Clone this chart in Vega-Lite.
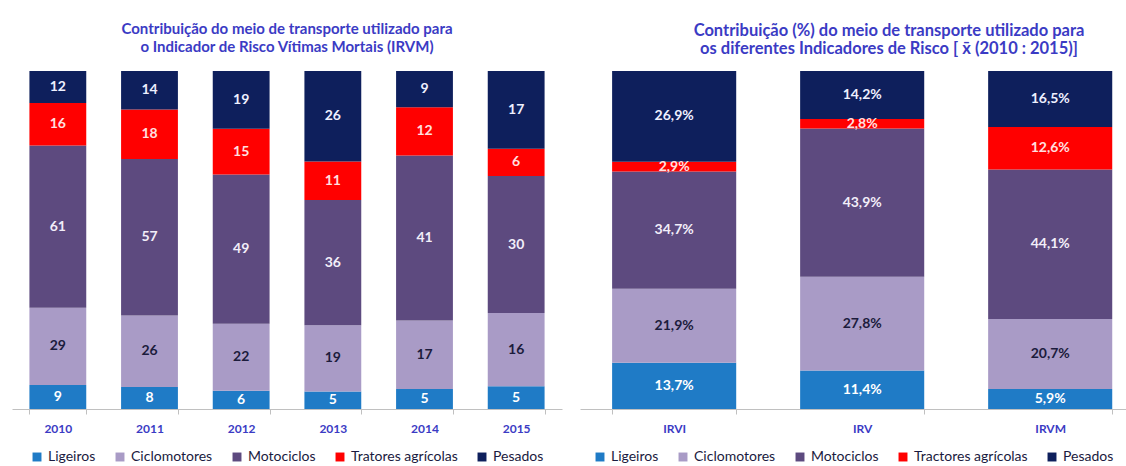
{
  "$schema": "https://vega.github.io/schema/vega-lite/v6.json",
  "padding": {"left": 12, "top": 22, "right": 0, "bottom": 0},
  "background": "white",
  "spacing": 18,
  "config": {
    "view": {"stroke": null},
    "locale": {"number": {"decimal": ",", "thousands": ".", "grouping": [3], "currency": ["", "%"]}},
    "font": "Lato",
    "title": {"font": "Lato", "fontWeight": "bold", "fontSize": 15, "color": "#3B3BC4", "lineHeight": 18, "offset": 16, "anchor": "middle"},
    "axisX": {"domainColor": "#c0c0c0", "tickColor": "#c0c0c0", "tickBand": "extent", "tickSize": 5, "labelFont": "Lato", "labelFontWeight": "bold", "labelFontSize": 12, "labelColor": "#3B3BC4", "labelPadding": 9, "labelAngle": 0, "title": null},
    "legend": {"orient": "bottom", "direction": "horizontal", "title": null, "symbolType": "square", "symbolSize": 80, "symbolStrokeWidth": 0, "labelFont": "Lato", "labelFontSize": 14, "labelColor": "#1a1a40", "columnPadding": 17, "offset": 16, "layout": {"anchor": "middle"}}
  },
  "datasets": {
    "ordem": [
      {"cat": "Ligeiros", "k": 1}, {"cat": "Ciclomotores", "k": 2}, {"cat": "Motociclos", "k": 3},
      {"cat": "Tratores agrícolas", "k": 4}, {"cat": "Tractores agrícolas", "k": 4}, {"cat": "Pesados", "k": 5}
    ]
  },
  "hconcat": [
    {
      "width": 550,
      "height": 338,
      "title": {"text": ["Contribuição do meio de transporte utilizado para", "o Indicador de Risco Vítimas Mortais (IRVM)"]},
      "data": {"values": [
        {"ano": "2010", "cat": "Ligeiros", "v": 9}, {"ano": "2010", "cat": "Ciclomotores", "v": 29}, {"ano": "2010", "cat": "Motociclos", "v": 61}, {"ano": "2010", "cat": "Tratores agrícolas", "v": 16}, {"ano": "2010", "cat": "Pesados", "v": 12},
        {"ano": "2011", "cat": "Ligeiros", "v": 8}, {"ano": "2011", "cat": "Ciclomotores", "v": 26}, {"ano": "2011", "cat": "Motociclos", "v": 57}, {"ano": "2011", "cat": "Tratores agrícolas", "v": 18}, {"ano": "2011", "cat": "Pesados", "v": 14},
        {"ano": "2012", "cat": "Ligeiros", "v": 6}, {"ano": "2012", "cat": "Ciclomotores", "v": 22}, {"ano": "2012", "cat": "Motociclos", "v": 49}, {"ano": "2012", "cat": "Tratores agrícolas", "v": 15}, {"ano": "2012", "cat": "Pesados", "v": 19},
        {"ano": "2013", "cat": "Ligeiros", "v": 5}, {"ano": "2013", "cat": "Ciclomotores", "v": 19}, {"ano": "2013", "cat": "Motociclos", "v": 36}, {"ano": "2013", "cat": "Tratores agrícolas", "v": 11}, {"ano": "2013", "cat": "Pesados", "v": 26},
        {"ano": "2014", "cat": "Ligeiros", "v": 5}, {"ano": "2014", "cat": "Ciclomotores", "v": 17}, {"ano": "2014", "cat": "Motociclos", "v": 41}, {"ano": "2014", "cat": "Tratores agrícolas", "v": 12}, {"ano": "2014", "cat": "Pesados", "v": 9},
        {"ano": "2015", "cat": "Ligeiros", "v": 5}, {"ano": "2015", "cat": "Ciclomotores", "v": 16}, {"ano": "2015", "cat": "Motociclos", "v": 30}, {"ano": "2015", "cat": "Tratores agrícolas", "v": 6}, {"ano": "2015", "cat": "Pesados", "v": 17}
      ]},
      "transform": [{"lookup": "cat", "from": {"data": {"name": "ordem"}, "key": "cat", "fields": ["k"]}}],
      "encoding": {
        "x": {"field": "ano", "type": "nominal", "title": null, "scale": {"paddingInner": 0.38, "paddingOuter": 0.19}},
        "order": {"field": "k", "type": "quantitative", "sort": "ascending"}
      },
      "layer": [
        {
          "mark": {"type": "bar"},
          "encoding": {
            "y": {"field": "v", "type": "quantitative", "stack": "normalize", "axis": null},
            "color": {"field": "cat", "type": "nominal", "sort": ["Ligeiros", "Ciclomotores", "Motociclos", "Tratores agrícolas", "Pesados"],
              "scale": {"domain": ["Ligeiros", "Ciclomotores", "Motociclos", "Tratores agrícolas", "Pesados"], "range": ["#1F7BC6", "#A99BC6", "#5D4A7F", "#FF0000", "#0E1F5C"]}}
          }
        },
        {
          "mark": {"type": "text", "fontWeight": "bold", "fontSize": 14, "font": "Lato"},
          "encoding": {
            "y": {"field": "v", "type": "quantitative", "stack": "normalize", "bandPosition": 0.5, "axis": null},
            "color": {"field": "cat", "type": "nominal", "sort": ["Ligeiros", "Ciclomotores", "Motociclos", "Tratores agrícolas", "Pesados"],
              "scale": {"domain": ["Ligeiros", "Ciclomotores", "Motociclos", "Tratores agrícolas", "Pesados"], "range": ["#ffffff", "#1c1c3c", "#f2eef9", "#ffe0e0", "#eef0ff"]}, "legend": null},
            "text": {"field": "v", "type": "quantitative"}
          }
        }
      ],
      "resolve": {"scale": {"color": "independent"}}
    },
    {
      "width": 546,
      "height": 338,
      "title": {"text": ["Contribuição (%) do meio de transporte utilizado para", "os diferentes Indicadores de Risco [ x̄ (2010 : 2015)]"], "fontSize": 16.5, "dx": 36, "dy": 2},
      "data": {"values": [
        {"ind": "IRVI", "cat": "Ligeiros", "v": 13.7}, {"ind": "IRVI", "cat": "Ciclomotores", "v": 21.9}, {"ind": "IRVI", "cat": "Motociclos", "v": 34.7}, {"ind": "IRVI", "cat": "Tractores agrícolas", "v": 2.9}, {"ind": "IRVI", "cat": "Pesados", "v": 26.9},
        {"ind": "IRV", "cat": "Ligeiros", "v": 11.4}, {"ind": "IRV", "cat": "Ciclomotores", "v": 27.8}, {"ind": "IRV", "cat": "Motociclos", "v": 43.9}, {"ind": "IRV", "cat": "Tractores agrícolas", "v": 2.8}, {"ind": "IRV", "cat": "Pesados", "v": 14.2},
        {"ind": "IRVM", "cat": "Ligeiros", "v": 5.9}, {"ind": "IRVM", "cat": "Ciclomotores", "v": 20.7}, {"ind": "IRVM", "cat": "Motociclos", "v": 44.1}, {"ind": "IRVM", "cat": "Tractores agrícolas", "v": 12.6}, {"ind": "IRVM", "cat": "Pesados", "v": 16.5}
      ]},
      "transform": [{"lookup": "cat", "from": {"data": {"name": "ordem"}, "key": "cat", "fields": ["k"]}}],
      "encoding": {
        "x": {"field": "ind", "type": "nominal", "title": null, "sort": ["IRVI", "IRV", "IRVM"], "scale": {"paddingInner": 0.34, "paddingOuter": 0.122, "align": 0.7}},
        "order": {"field": "k", "type": "quantitative", "sort": "ascending"}
      },
      "layer": [
        {
          "mark": {"type": "bar"},
          "encoding": {
            "y": {"field": "v", "type": "quantitative", "stack": "normalize", "axis": null},
            "color": {"field": "cat", "type": "nominal", "sort": ["Ligeiros", "Ciclomotores", "Motociclos", "Tractores agrícolas", "Pesados"],
              "scale": {"domain": ["Ligeiros", "Ciclomotores", "Motociclos", "Tractores agrícolas", "Pesados"], "range": ["#1F7BC6", "#A99BC6", "#5D4A7F", "#FF0000", "#0E1F5C"]}}
          }
        },
        {
          "mark": {"type": "text", "fontWeight": "bold", "fontSize": 14, "font": "Lato"},
          "encoding": {
            "y": {"field": "v", "type": "quantitative", "stack": "normalize", "bandPosition": 0.5, "axis": null},
            "color": {"field": "cat", "type": "nominal", "sort": ["Ligeiros", "Ciclomotores", "Motociclos", "Tractores agrícolas", "Pesados"],
              "scale": {"domain": ["Ligeiros", "Ciclomotores", "Motociclos", "Tractores agrícolas", "Pesados"], "range": ["#ffffff", "#1c1c3c", "#f2eef9", "#ffe0e0", "#eef0ff"]}, "legend": null},
            "text": {"field": "v", "type": "quantitative", "format": "$.1f"}
          }
        }
      ],
      "resolve": {"scale": {"color": "independent"}}
    }
  ],
  "resolve": {"scale": {"color": "independent"}}
}
